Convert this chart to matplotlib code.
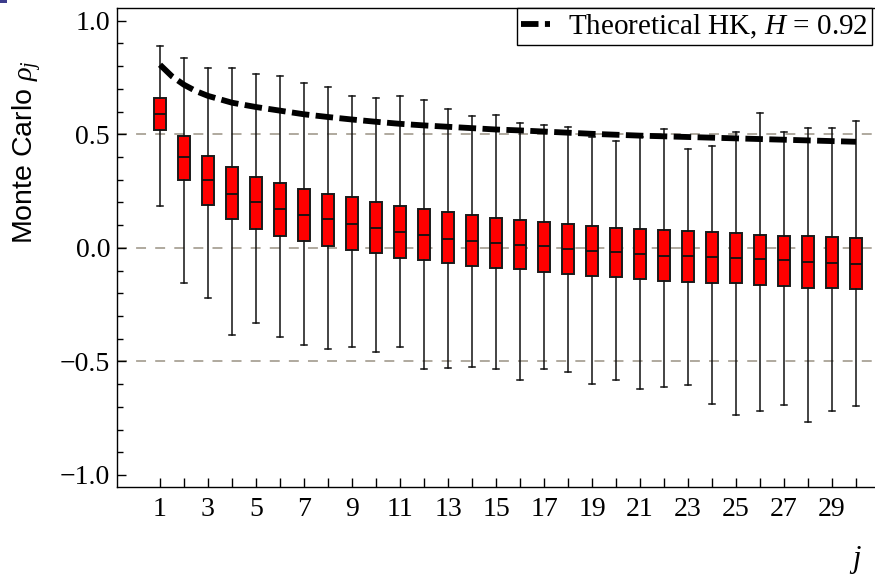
import numpy as np
import matplotlib
matplotlib.use("Agg")
import matplotlib.pyplot as plt
from matplotlib.patches import Rectangle
from matplotlib.ticker import MultipleLocator

plt.rcParams["font.family"] = ["Liberation Serif", "DejaVu Serif"]
plt.rcParams["mathtext.fontset"] = "custom"
plt.rcParams["mathtext.rm"] = "Liberation Serif"
plt.rcParams["mathtext.it"] = "Liberation Serif:italic"

# lags
lags = list(range(1, 31))

# box statistics
whisker_hi = [0.887, 0.838, 0.793, 0.793, 0.764, 0.755, 0.724, 0.709, 0.668, 0.658,
              0.667, 0.652, 0.612, 0.581, 0.586, 0.549, 0.540, 0.533, 0.486, 0.470,
              0.490, 0.523, 0.435, 0.448, 0.511, 0.593, 0.508, 0.526, 0.526, 0.558]
q3 = [0.659, 0.493, 0.405, 0.355, 0.314, 0.285, 0.261, 0.239, 0.223, 0.204,
      0.185, 0.170, 0.156, 0.144, 0.131, 0.123, 0.112, 0.106, 0.097, 0.088,
      0.082, 0.078, 0.072, 0.069, 0.065, 0.057, 0.053, 0.050, 0.047, 0.043]
median = [0.590, 0.398, 0.297, 0.236, 0.201, 0.170, 0.144, 0.125, 0.107, 0.087,
          0.070, 0.056, 0.040, 0.031, 0.023, 0.012, 0.006, -0.004, -0.012, -0.020,
          -0.028, -0.034, -0.037, -0.041, -0.045, -0.050, -0.054, -0.062, -0.065, -0.069]
q1 = [0.520, 0.297, 0.189, 0.126, 0.082, 0.054, 0.031, 0.010, -0.010, -0.022,
      -0.043, -0.053, -0.066, -0.078, -0.087, -0.095, -0.106, -0.116, -0.122, -0.130,
      -0.138, -0.145, -0.150, -0.153, -0.156, -0.162, -0.170, -0.175, -0.179, -0.182]
whisker_lo = [0.186, -0.153, -0.219, -0.382, -0.330, -0.391, -0.429, -0.445, -0.435, -0.458,
              -0.438, -0.532, -0.527, -0.526, -0.533, -0.580, -0.535, -0.548, -0.601, -0.580,
              -0.621, -0.614, -0.603, -0.687, -0.735, -0.720, -0.690, -0.768, -0.720, -0.695]

# theoretical curve
curve_j = [1, 1.5, 2, 2.5, 3, 4, 5, 6, 7, 8, 9, 10, 11, 12, 13, 14, 15, 16, 17, 18,
           19, 20, 21, 22, 23, 24, 25, 26, 27, 28, 29, 30]
curve_rho = [0.806, 0.755, 0.718, 0.690, 0.669, 0.639, 0.620, 0.604, 0.588, 0.576,
             0.565, 0.555, 0.546, 0.539, 0.533, 0.527, 0.521, 0.517, 0.512, 0.507,
             0.502, 0.498, 0.494, 0.491, 0.488, 0.485, 0.482, 0.479, 0.476, 0.473,
             0.470, 0.467]

W, H = 875, 577
fig = plt.figure(figsize=(W / 100, H / 100), dpi=100)
ax = fig.add_axes([117 / W, 1 - 487 / H, (W - 117) / W, (487 - 8) / H])

# reference lines
for yv in (-0.5, 0.0, 0.5):
    ax.axhline(yv, color="#9a9284", lw=1.1, linestyle=(0, (6.5, 6)), zorder=1)

stats = []
for i in range(len(lags)):
    stats.append({"whislo": whisker_lo[i], "q1": q1[i], "med": median[i],
                  "q3": q3[i], "whishi": whisker_hi[i]})

ax.bxp(stats, positions=lags, widths=0.53, capwidths=0.28, showfliers=False,
       patch_artist=True,
       boxprops=dict(facecolor="#ff0000", edgecolor="#1a1a1a", linewidth=1.4),
       medianprops=dict(color="#111111", linewidth=1.3),
       whiskerprops=dict(color="#111111", linewidth=1.1),
       capprops=dict(color="#111111", linewidth=1.1),
       zorder=2)

ax.plot(curve_j, curve_rho, color="black", lw=4.2, linestyle=(0, (3.0, 1.1)),
        dash_capstyle="butt", zorder=3, label="Theoretical HK, $H$ = 0.92")

ax.set_xlim(1 - 43 / 24, 1 + 715 / 24)
ax.set_ylim(-1.053, 1.056)

ax.set_xticks(lags)
ax.set_xticklabels([str(v) if v % 2 == 1 else "" for v in lags])
ax.yaxis.set_major_locator(MultipleLocator(0.5))
ax.yaxis.set_minor_locator(MultipleLocator(0.1))
ax.yaxis.set_major_formatter(matplotlib.ticker.FuncFormatter(
    lambda v, p: ("\u2212" if v < -1e-9 else "") + f"{abs(v):.1f}"))

ax.tick_params(axis="both", which="both", direction="in", top=False, right=False,
               labelsize=20, width=1.0)
ax.tick_params(axis="x", length=6.5, pad=7)
ax.tick_params(axis="y", which="major", length=6.5, pad=5)
ax.tick_params(axis="y", which="minor", length=4.5)

for side in ("left", "bottom", "top"):
    ax.spines[side].set_linewidth(1.0)
ax.spines["right"].set_visible(False)

ax.set_ylabel(r"Monte Carlo $\rho_j$", fontsize=20.5,
              family=["Liberation Sans", "DejaVu Sans"])
ax.yaxis.set_label_coords(-0.096, 0.70)
ax.set_xlabel("$j$", fontsize=22)
ax.xaxis.set_label_coords(0.974, -0.12)

leg = ax.legend(loc="upper right", bbox_to_anchor=(872 / W, 1 - 8 / H),
                bbox_transform=fig.transFigure, borderaxespad=0, fontsize=21,
                frameon=True, fancybox=False, shadow=False, framealpha=1,
                handlelength=1.0, handletextpad=0.6, borderpad=0.15)
leg.get_frame().set_edgecolor("black")
leg.get_frame().set_linewidth(1.0)

fig.patches.append(Rectangle((0, 1 - 3 / H), 7 / W, 3 / H, transform=fig.transFigure,
                             facecolor="#3c3c8c", edgecolor="none"))

fig.savefig("out.png", dpi=100)
